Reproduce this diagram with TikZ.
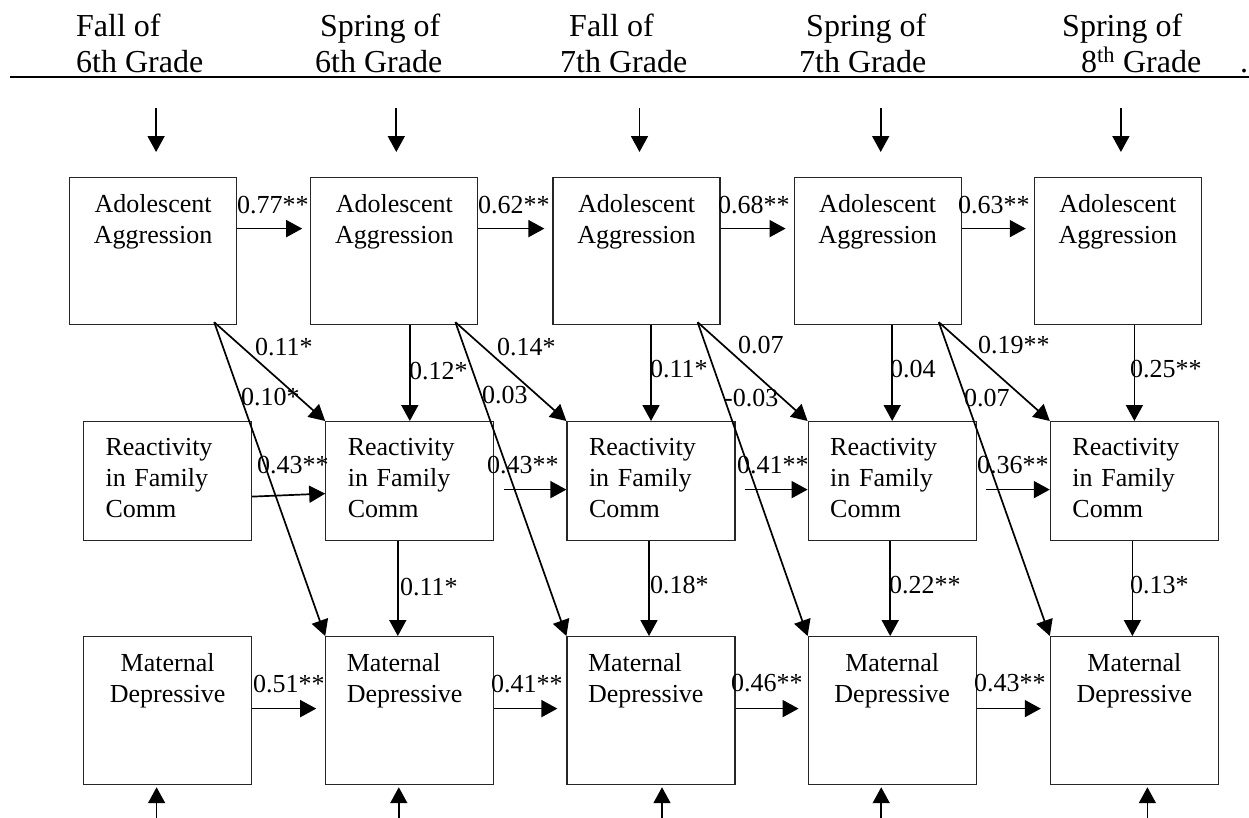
\documentclass[tikz,border=0pt]{standalone}
\usepackage{fontspec}
\setmainfont{Liberation Serif}
\usetikzlibrary{
	positioning,
	arrows.meta
}

\newcommand{\hdrfont}{\fontsize{32}{35}\selectfont}
\newcommand{\boxfont}{\fontsize{26}{31}\selectfont}

\tikzset{
	box/.style={draw=black!85, line width=1.2pt, inner sep=0pt, font=\boxfont},
	adol/.style={box, text width=167pt, align=center, text height=35pt, text depth=112pt},
	reac/.style={box, inner xsep=22pt, text width=124pt, align=left, text height=34pt, text depth=85pt},
	matc/.style={box, text width=168pt, align=center, text height=35pt, text depth=113pt},
	matl/.style={box, inner xsep=21pt, text width=126pt, align=left, text height=35pt, text depth=113pt},
	hdr/.style={anchor=base west, inner sep=0pt, font=\hdrfont},
	coef/.style={anchor=base west, inner sep=0pt, font=\boxfont},
	arr/.style={-{Triangle[length=16pt,width=17pt]}, line width=1.7pt}
}

\begin{document}
\begin{tikzpicture}[x=1pt, y=-1pt]
	\useasboundingbox (0,0) rectangle (1249,817);

	% time points
	\node[hdr] (h1a) at (76,36)   {Fall of};
	\node[hdr] (h1b) at (76,72)   {6th Grade};
	\node[hdr] (h2a) at (320,36)  {Spring of};
	\node[hdr] (h2b) at (315,72)  {6th Grade};
	\node[hdr] (h3a) at (569,36)  {Fall of};
	\node[hdr] (h3b) at (560,72)  {7th Grade};
	\node[hdr] (h4a) at (806,36)  {Spring of};
	\node[hdr] (h4b) at (799,72)  {7th Grade};
	\node[hdr] (h5a) at (1062,36) {Spring of};
	\node[hdr] (h5b) at (1081,72) {8\textsuperscript{th} Grade};
	\node[hdr] (hdot) at (1240,72) {.};
	\draw[line width=2.4pt] (10,77) -- (1249,77);

	% adolescent aggression
	\node[adol, anchor=north west] (a1) at (69,177) {Adolescent\\Aggression};
	\node[adol, right=73pt of a1]  (a2) {Adolescent\\Aggression};
	\node[adol, right=74pt of a2]  (a3) {Adolescent\\Aggression};
	\node[adol, right=73pt of a3]  (a4) {Adolescent\\Aggression};
	\node[adol, right=72pt of a4]  (a5) {Adolescent\\Aggression};

	% reactivity in family communication
	\node[reac, anchor=north west] (r1) at (83,421) {Reactivity\\in Family\\Comm};
	\node[reac, right=73pt of r1]  (r2) {Reactivity\\in Family\\Comm};
	\node[reac, right=72pt of r2]  (r3) {Reactivity\\in Family\\Comm};
	\node[reac, right=72pt of r3]  (r4) {Reactivity\\in Family\\Comm};
	\node[reac, right=73pt of r4]  (r5) {Reactivity\\in Family\\Comm};

	% maternal depressive
	\node[matc, anchor=north west] (m1) at (83,636) {Maternal\\Depressive};
	\node[matl, right=73pt of m1]  (m2) {Maternal\\Depressive};
	\node[matl, right=72pt of m2]  (m3) {Maternal\\Depressive};
	\node[matc, right=72pt of m3]  (m4) {Maternal\\Depressive};
	\node[matc, right=73pt of m4]  (m5) {Maternal\\Depressive};

	% stability paths
	\path[arr]
		([yshift=22.5pt]a1.east) edge ([xshift=-8pt,yshift=22.5pt]a2.west)
		([yshift=22.5pt]a2.east) edge ([xshift=-8pt,yshift=22.5pt]a3.west)
		([yshift=22.5pt]a3.east) edge ([xshift=-8pt,yshift=22.5pt]a4.west)
		([yshift=22.5pt]a4.east) edge ([xshift=-8pt,yshift=22.5pt]a5.west)
		([yshift=-15.5pt]r1.east) edge ([yshift=-12.5pt]r2.west)
		([xshift=10pt,yshift=-8.5pt]r2.east) edge ([yshift=-8.5pt]r3.west)
		([xshift=9pt,yshift=-8.5pt]r3.east) edge ([yshift=-8.5pt]r4.west)
		([xshift=9pt,yshift=-8.5pt]r4.east) edge ([yshift=-8.5pt]r5.west)
		([yshift=2pt]m1.east) edge ([xshift=-9pt,yshift=2pt]m2.west)
		([yshift=2pt]m2.east) edge ([xshift=-9pt,yshift=2pt]m3.west)
		([yshift=2pt]m3.east) edge ([xshift=-9pt,yshift=2pt]m4.west)
		([yshift=2pt]m4.east) edge ([xshift=-9pt,yshift=2pt]m5.west)
	;

	% cross-lagged and concurrent paths
	\foreach \i/\j in {1/2,2/3,3/4,4/5} {
		\draw[arr] ([xshift=-23pt,yshift=3pt]a\i.south east) -- (r\j.north west);
		\draw[arr] ([xshift=-23pt,yshift=3pt]a\i.south east) -- (m\j.north west);
		\draw[arr] (a\j.south -| r\j.north) -- (r\j.north);
	}
	\foreach \i/\dx in {2/-12,3/-2,4/-2,5/-2}
		\draw[arr] ([xshift=\dx pt]r\i.south) -- ([xshift=\dx pt]r\i.south |- m\i.north);

	% exogenous inputs
	\foreach \n/\dx in {a1/3,a2/2,a3/3,a4/3,a5/3}
		\draw[arr] ([xshift=\dx pt,yshift=69pt]\n.north) -- ([xshift=\dx pt,yshift=25pt]\n.north);
	\foreach \n/\dx in {m1/-11,m2/-11,m3/11,m4/-11,m5/13}
		\draw[arr] ([xshift=\dx pt,yshift=-36pt]\n.south) -- ([xshift=\dx pt,yshift=-2pt]\n.south);

	% coefficients
	\node[coef] (c01) at (237,213) {0.77**};
	\node[coef] (c02) at (478,213) {0.62**};
	\node[coef] (c03) at (718,213) {0.68**};
	\node[coef] (c04) at (958,213) {0.63**};
	\node[coef] (c05) at (255,355) {0.11*};
	\node[coef] (c06) at (497,355) {0.14*};
	\node[coef] (c07) at (738,353) {0.07};
	\node[coef] (c08) at (978,353) {0.19**};
	\node[coef] (c09) at (241,405) {0.10*};
	\node[coef] (c10) at (482,403) {0.03};
	\node[coef] (c11) at (724,406) {-0.03};
	\node[coef] (c12) at (964,406) {0.07};
	\node[coef] (c13) at (409,379) {0.12*};
	\node[coef] (c14) at (650,377) {0.11*};
	\node[coef] (c15) at (890,377) {0.04};
	\node[coef] (c16) at (1130,377) {0.25**};
	\node[coef] (c17) at (257,473) {0.43**};
	\node[coef] (c18) at (487,473) {0.43**};
	\node[coef] (c19) at (737,473) {0.41**};
	\node[coef] (c20) at (977,473) {0.36**};
	\node[coef] (c21) at (400,595) {0.11*};
	\node[coef] (c22) at (650,593) {0.18*};
	\node[coef] (c23) at (889,593) {0.22**};
	\node[coef] (c24) at (1130,593) {0.13*};
	\node[coef] (c25) at (253,692) {0.51**};
	\node[coef] (c26) at (491,692) {0.41**};
	\node[coef] (c27) at (731,691) {0.46**};
	\node[coef] (c28) at (974,691) {0.43**};
\end{tikzpicture}
\end{document}
